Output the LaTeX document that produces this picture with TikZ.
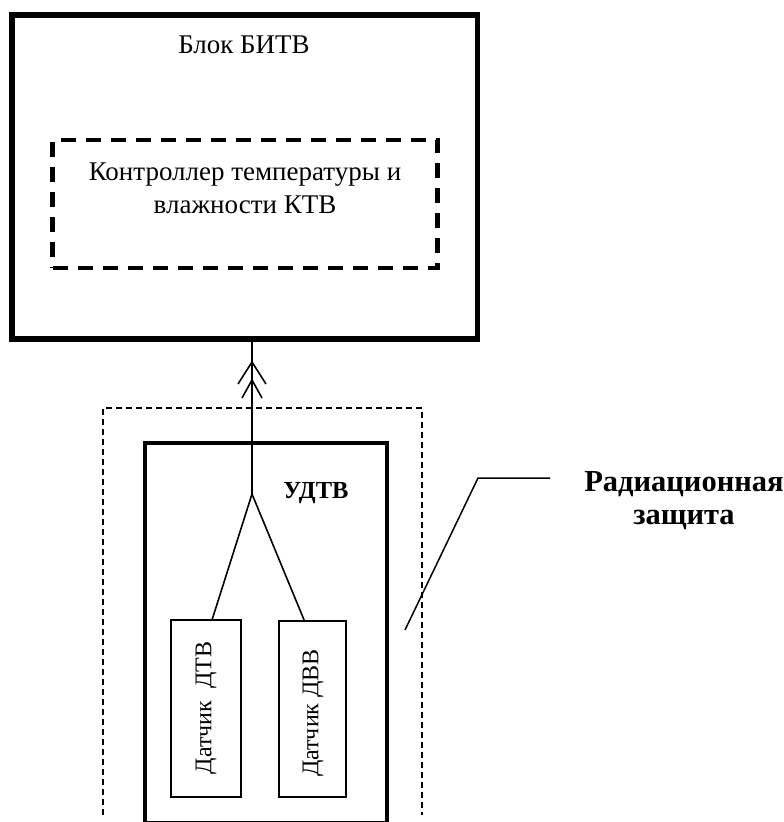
\documentclass[tikz,border=0pt]{standalone}
\usepackage{fontspec}
\setmainfont{Liberation Serif}
\begin{document}
\begin{tikzpicture}[x=1pt, y=-1pt, >=stealth,
		frame/.style={draw, line width=5.5pt, inner sep=0pt, outer sep=0pt},
		ctrl/.style={draw, line width=4.5pt, dash pattern=on 15pt off 10pt, inner sep=0pt, outer sep=0pt},
		unit/.style={draw, line width=4pt, inner sep=0pt, outer sep=0pt},
		sensor/.style={draw, line width=2.6pt, inner sep=0pt, outer sep=0pt},
		wire/.style={line width=1.6pt},
		txt/.style={font=\fontsize{27}{33}\selectfont, inner sep=0pt},
		bold/.style={font=\fontsize{30.5}{33}\selectfont\bfseries, inner sep=0pt, align=center}]
	\useasboundingbox (0,0) rectangle (784,822);
	% blocks
	\node[frame, minimum width=465.5pt, minimum height=324pt] (bitv) at (244.75,177) {};
	\node[ctrl, minimum width=385pt, minimum height=128pt] (ktv) at (245,204) {};
	\node[unit, minimum width=242pt, minimum height=380pt] (udtv) at (266,633) {};
	\node[sensor, minimum width=70pt, minimum height=177pt] (dtv) at (206,708.5) {};
	\node[sensor, minimum width=67pt, minimum height=176pt] (dvv) at (312.5,709) {};
	% shield
	\draw[line width=1.5pt, dash pattern=on 6pt off 4pt] (103,815) -- (103,408) -- (422,408) -- (422,815);
	% labels
	\node[txt, anchor=base] (bitvlabel) at (244,53) {Блок БИТВ};
	\node[txt, align=center] (ktvlabel) at (245,188) {Контроллер температуры и\\влажности КТВ};
	\node[txt, font=\fontsize{24.5}{28}\selectfont\bfseries, anchor=base] (udtvlabel) at (316,498) {УДТВ};
	\node[txt, font=\fontsize{24}{28}\selectfont, rotate=90] (dtvlabel) at (206,708) {Датчик\ \ ДТВ};
	\node[txt, font=\fontsize{24}{28}\selectfont, rotate=90] (dvvlabel) at (313,713) {Датчик ДВВ};
	\node[bold] (shieldlabel) at (684,501) {Радиационная\\защита};
	% wiring
	\coordinate (fork) at (252,494);
	\coordinate (jack) at (252,362);
	\coordinate (plug) at (252,380);
	\draw[wire] (fork) -- (fork |- bitv.south);
	\draw[wire] ([xshift=6pt]dtv.north) -- (fork) -- ([xshift=-8pt]dvv.north);
	\draw[wire] ([shift={(-14,22)}]jack) -- (jack) -- ([shift={(14,22)}]jack);
	\draw[wire] ([shift={(-10,18)}]plug) -- (plug) -- ([shift={(10,18)}]plug);
	% leader
	\coordinate (lead) at (405,630);
	\coordinate (knee) at (478,478);
	\coordinate (shelf) at (550,478);
	\draw[line width=1.5pt] (lead) -- (knee) -- (shelf);
\end{tikzpicture}
\end{document}
